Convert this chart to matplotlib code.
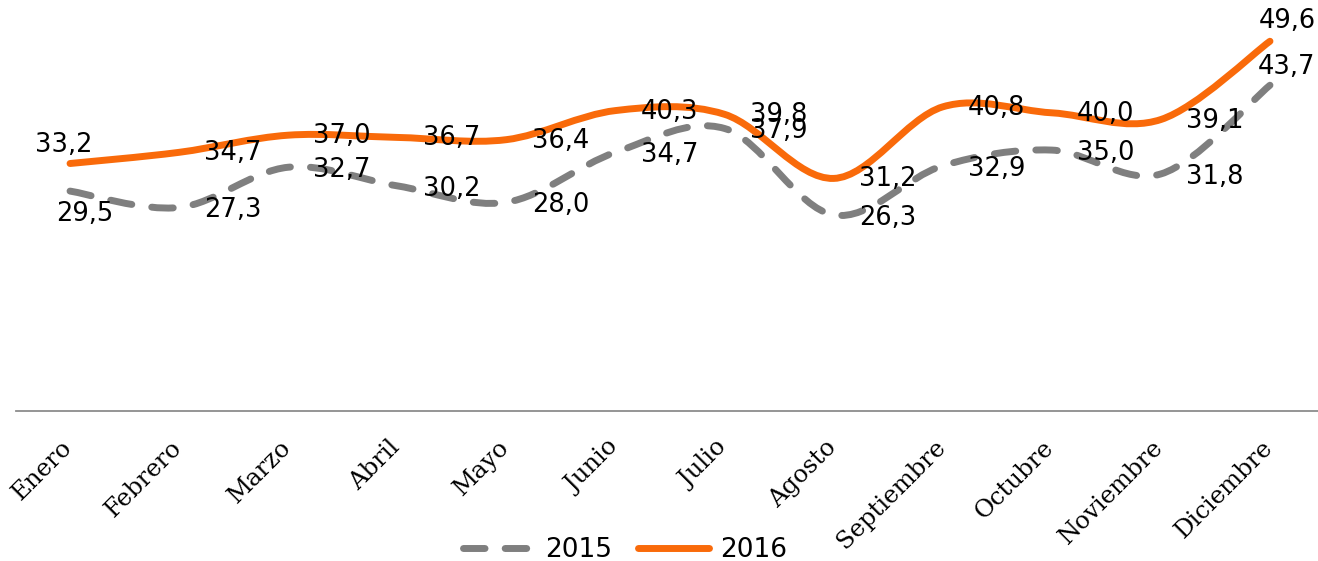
import matplotlib
matplotlib.use("Agg")
import matplotlib.pyplot as plt
from matplotlib.path import Path
from matplotlib.patches import PathPatch
from matplotlib.lines import Line2D
from matplotlib.transforms import ScaledTranslation

months = ["Enero", "Febrero", "Marzo", "Abril", "Mayo", "Junio", "Julio",
          "Agosto", "Septiembre", "Octubre", "Noviembre", "Diciembre"]
v2015 = [29.5, 27.3, 32.7, 30.2, 28.0, 34.7, 37.9, 26.3, 32.9, 35.0, 31.8, 43.7]
v2016 = [33.2, 34.7, 37.0, 36.7, 36.4, 40.3, 39.8, 31.2, 40.8, 40.0, 39.1, 49.6]
series_names = ["2015", "2016"]

C2015 = "#7f7f7f"
C2016 = "#f96a0a"

W, H = 1318, 561
fig = plt.figure(figsize=(W / 100, H / 100), dpi=100)
ax_left, ax_right = 15.5, 1324.5
ax_bottom, ax_top = 411, 1
ax = fig.add_axes([ax_left / W, (H - ax_bottom) / H,
                   (ax_right - ax_left) / W, (ax_bottom - ax_top) / H])
ax.set_xlim(-0.5, len(months) - 0.5)
ax.set_ylim(0, 55)


def smooth_path(xs, ys):
    pts = list(zip(xs, ys))
    n = len(pts)
    verts = [pts[0]]
    codes = [Path.MOVETO]
    for i in range(n - 1):
        p0 = pts[max(i - 1, 0)]
        p1 = pts[i]
        p2 = pts[i + 1]
        p3 = pts[min(i + 2, n - 1)]
        c1 = (p1[0] + (p2[0] - p0[0]) / 6, p1[1] + (p2[1] - p0[1]) / 6)
        c2 = (p2[0] - (p3[0] - p1[0]) / 6, p2[1] - (p3[1] - p1[1]) / 6)
        verts += [c1, c2, p2]
        codes += [Path.CURVE4] * 3
    return Path(verts, codes)


xs = list(range(len(months)))
lw = 5.0
dash = (0, (3.1, 2.9))
ax.add_patch(PathPatch(smooth_path(xs, v2015), facecolor="none", edgecolor=C2015,
                       lw=lw, linestyle=dash, capstyle="round", joinstyle="round"))
ax.add_patch(PathPatch(smooth_path(xs, v2016), facecolor="none", edgecolor=C2016,
                       lw=lw, capstyle="round", joinstyle="round"))

fs = 18.5
# label offsets in pixels
off2016 = [(-6, 19)] + [(54, -1)] * 10 + [(17, 20)]
off2015 = [(15, -23)] + [(54, -3)] * 10 + [(17, 18)]
for i, (a, b) in enumerate(zip(v2015, v2016)):
    ax.annotate(f"{b:.1f}".replace(".", ","), (i, b), xytext=off2016[i],
                textcoords="offset pixels", ha="center", va="center",
                fontsize=fs, family="DejaVu Sans", color="black")
    ax.annotate(f"{a:.1f}".replace(".", ","), (i, a), xytext=off2015[i],
                textcoords="offset pixels", ha="center", va="center",
                fontsize=fs, family="DejaVu Sans", color="black")

for s in ["top", "left", "right"]:
    ax.spines[s].set_visible(False)
ax.spines["bottom"].set_color("#8c8c8c")
ax.spines["bottom"].set_linewidth(1.3)
ax.set_yticks([])
ax.set_xticks(xs)
ax.set_xticklabels(months, rotation=45, ha="right", va="top",
                   fontsize=17.5, family="DejaVu Serif")
ax.tick_params(axis="x", length=0, pad=18)
shift = ScaledTranslation(0.07, 0, fig.dpi_scale_trans)
for lab in ax.get_xticklabels():
    lab.set_transform(lab.get_transform() + shift)

handles = [Line2D([0], [0], color=C2015, lw=lw, linestyle=dash, dash_capstyle="round"),
           Line2D([0], [0], color=C2016, lw=lw, solid_capstyle="round")]
fig.legend(handles, series_names, loc="center", bbox_to_anchor=(625 / W, 11 / H),
           ncol=2, frameon=False, fontsize=19, handlelength=2.7,
           handletextpad=0.4, columnspacing=1.0, borderpad=0)

fig.savefig("out.png", dpi=100)
